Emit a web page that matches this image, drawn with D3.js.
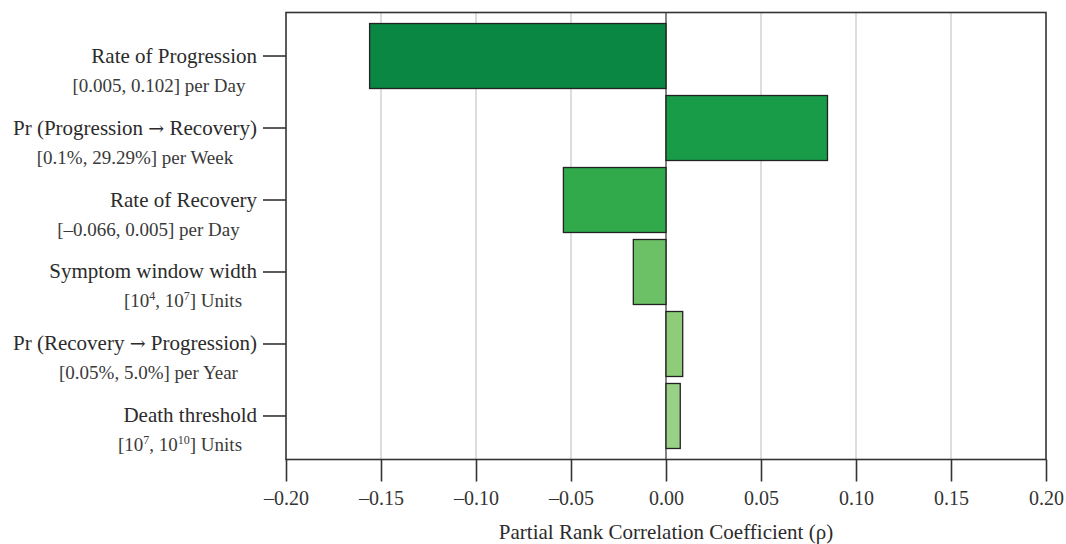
<!DOCTYPE html>
<html>
<head>
<meta charset="utf-8">
<script src="https://cdn.jsdelivr.net/npm/d3@7"></script>
<style>
  html, body { margin: 0; padding: 0; background: #fff; }
  svg { display: block; font-family: "Liberation Serif", "Times New Roman", serif; }
</style>
</head>
<body>
<svg id="chart" width="1066" height="544"></svg>
<script>
// Sensitivity parameters (top to bottom) and their sampled ranges
const paramNames = [
  "Rate of Progression",
  "Pr (Progression \u2192 Recovery)",
  "Rate of Recovery",
  "Symptom window width",
  "Pr (Recovery \u2192 Progression)",
  "Death threshold"
];
// "^n" marks a superscript exponent
const paramRanges = [
  "[0.005, 0.102] per Day",
  "[0.1%, 29.29%] per Week",
  "[\u20130.066, 0.005] per Day",
  "[10^4, 10^7] Units",
  "[0.05%, 5.0%] per Year",
  "[10^7, 10^10] Units"
];
// Partial rank correlation coefficients
const prcc = [-0.156, 0.085, -0.054, -0.0172, 0.0088, 0.0075];
const barColors = ["#0b8744", "#189c48", "#30aa4b", "#6cc065", "#8ecc7a", "#99d186"];
const xTicks = [-0.20, -0.15, -0.10, -0.05, 0.00, 0.05, 0.10, 0.15, 0.20];
const xDomain = [-0.2, 0.2];

// Layout
const plot = { left: 286, right: 1046, top: 12.5, bottom: 459.5 };
const labelRight = 257;
// horizontal centres of the range sub-labels
const subCenters = [159, 135, 148.5, 183, 148.5, 180];

const svg = d3.select("#chart");

const x = d3.scaleLinear().domain(xDomain).range([plot.left, plot.right]);
const y = d3.scaleBand()
  .domain(paramNames)
  .range([plot.top, plot.bottom])
  .paddingInner(7 / 72)
  .paddingOuter(0.153);

// Vertical grid lines
svg.append("g")
  .selectAll("line")
  .data(xTicks.filter(t => Math.abs(t) > 1e-9 && Math.abs(Math.abs(t) - 0.2) > 1e-9))
  .join("line")
  .attr("x1", d => x(d)).attr("x2", d => x(d))
  .attr("y1", plot.top).attr("y2", plot.bottom)
  .attr("stroke", "#c6c6c6")
  .attr("stroke-width", 1.2);

// Zero line
svg.append("line")
  .attr("x1", x(0)).attr("x2", x(0))
  .attr("y1", plot.top).attr("y2", plot.bottom)
  .attr("stroke", "#333")
  .attr("stroke-width", 1.2);

// Bars
svg.append("g")
  .selectAll("rect")
  .data(paramNames.map((name, i) => ({ name, value: prcc[i], color: barColors[i] })))
  .join("rect")
  .attr("x", d => Math.min(x(0), x(d.value)))
  .attr("width", d => Math.abs(x(d.value) - x(0)))
  .attr("y", d => y(d.name))
  .attr("height", y.bandwidth())
  .attr("fill", d => d.color)
  .attr("stroke", "#222")
  .attr("stroke-width", 1.3);

// Frame
svg.append("rect")
  .attr("x", plot.left).attr("y", plot.top)
  .attr("width", plot.right - plot.left)
  .attr("height", plot.bottom - plot.top)
  .attr("fill", "none")
  .attr("stroke", "#333")
  .attr("stroke-width", 1.6);

// Bottom axis
const fmt = v => {
  const s = d3.format(".2f")(Math.abs(v));
  return (v < -1e-9 ? "\u2013" : "") + s;
};
const xAxis = svg.append("g")
  .attr("transform", `translate(0,${plot.bottom})`)
  .call(d3.axisBottom(x).tickValues(xTicks).tickSize(22).tickPadding(9).tickFormat(fmt));
xAxis.select(".domain").remove();
xAxis.selectAll(".tick line").attr("stroke", "#333").attr("stroke-width", 1.6);
xAxis.selectAll(".tick text")
  .attr("fill", "#333")
  .style("font-family", "Liberation Serif, serif")
  .style("font-size", "20px");

// Left axis ticks
const yAxis = svg.append("g")
  .attr("transform", `translate(${plot.left},0)`)
  .call(d3.axisLeft(y).tickSize(23).tickFormat(""));
yAxis.select(".domain").remove();
yAxis.selectAll(".tick line").attr("stroke", "#333").attr("stroke-width", 1.6);

// Parameter labels
const labels = svg.append("g");
paramNames.forEach((name, i) => {
  const cy = y(name) + y.bandwidth() / 2;
  const main = labels.append("text")
    .attr("x", labelRight)
    .attr("y", cy + 6.5)
    .attr("text-anchor", "end")
    .attr("fill", "#2b2b2b")
    .style("font-size", "21px");
  // the arrow glyph is drawn from DejaVu Serif for a wider arrow
  name.split(/(\u2192)/).forEach(part => {
    if (!part) return;
    const t = main.append("tspan").text(part);
    if (part === "\u2192") t.style("font-family", "DejaVu Serif, serif").style("font-size", "19px");
  });

  const sub = labels.append("text")
    .attr("x", subCenters[i])
    .attr("y", cy + 35.5)
    .attr("text-anchor", "middle")
    .attr("fill", "#3a3a3a")
    .style("font-size", "19px");
  let raised = false;
  paramRanges[i].split(/(\^\d+)/).forEach(part => {
    if (!part) return;
    if (part.startsWith("^")) {
      sub.append("tspan")
        .attr("dy", -7)
        .style("font-size", "12px")
        .text(part.slice(1));
      raised = true;
    } else {
      const t = sub.append("tspan").text(part);
      if (raised) { t.attr("dy", 7); raised = false; }
    }
  });
});

// Axis title
svg.append("text")
  .attr("x", x(0))
  .attr("y", 539)
  .attr("text-anchor", "middle")
  .attr("fill", "#2b2b2b")
  .style("font-size", "21px")
  .text("Partial Rank Correlation Coefficient (\u03c1)");
</script>
</body>
</html>
